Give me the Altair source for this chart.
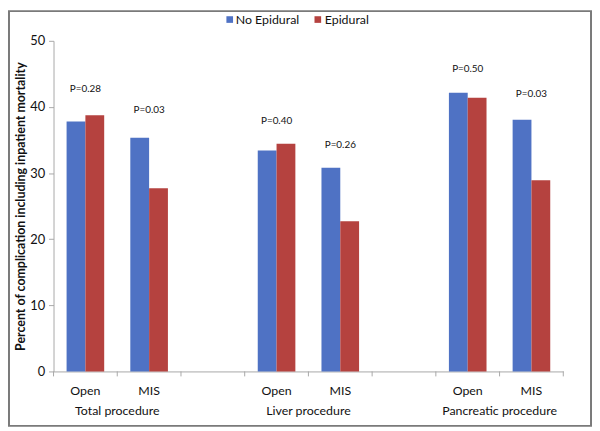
import altair as alt
import pandas as pd

ZW = "\u200b"
# ---- data ----
slots = ["Open", "MIS", " ", "Open" + ZW, "MIS" + ZW, "  ",
         "Open" + ZW * 2, "MIS" + ZW * 2]
bar_slots = ["Open", "MIS", "Open" + ZW, "MIS" + ZW, "Open" + ZW * 2, "MIS" + ZW * 2]
series = ["No Epidural", "Epidural"]
no_epidural = [37.8, 35.35, 33.4, 30.8, 42.15, 38.05]
epidural = [38.75, 27.7, 34.45, 22.7, 41.4, 28.9]
p_labels = ["P=0.28", "P=0.03", "P=0.40", "P=0.26", "P=0.50", "P=0.03"]
p_label_y = [42.7, 39.55, 37.9, 34.2, 45.7, 41.95]
groups = ["Total procedure", "Liver procedure", "Pancreatic procedure"]
group_slots = ["MIS", "MIS" + ZW, "MIS" + ZW * 2]

colors = ["#4f72c4", "#b5423f"]
FONT = "Lato"
GRAY = "#a8a8a8"

ne_df = pd.DataFrame({"slot": bar_slots, "pct": no_epidural})
ep_df = pd.DataFrame({"slot": bar_slots, "pct": epidural})
p_df = pd.DataFrame({"slot": bar_slots, "label": p_labels, "pct": p_label_y})
g_df = pd.DataFrame({"slot": group_slots, "group": groups})
tick_df = pd.DataFrame({"slot": slots})
end_df = pd.DataFrame({"slot": slots[-1:]})
leg0_df = pd.DataFrame({"name": series[:1]})
leg1_df = pd.DataFrame({"name": series[1:]})
one_df = pd.DataFrame({"a": [0]})

W, H = 515, 334
HALF = W / len(slots) / 2

x_scale = alt.Scale(domain=slots, paddingInner=0, paddingOuter=0)
y_scale = alt.Scale(domain=[0, 50])

x_enc = alt.X("slot:N", scale=x_scale, sort=None,
              axis=alt.Axis(title=None, labelAngle=0, ticks=False, labelPadding=13,
                            labelFontSize=12.5, labelColor="#111", labelFont=FONT,
                            domainColor=GRAY))
y_enc = alt.Y("pct:Q", scale=y_scale,
              axis=alt.Axis(title="Percent of complication including inpatient mortality",
                            grid=False, tickSize=5, labelPadding=4, tickMinStep=10,
                            labelFontSize=13, labelColor="#111", labelFont=FONT,
                            titleFont=FONT, titleFontSize=12.5, titleFontWeight="bold",
                            titleColor="#111", titlePadding=2,
                            domainColor=GRAY, tickColor=GRAY))

border = alt.Chart(one_df).mark_rect(filled=False, stroke="#7a7a7a",
                                     strokeWidth=2).encode(
    x=alt.value(-45), x2=alt.value(543), y=alt.value(-30), y2=alt.value(389))

bars_ne = alt.Chart(ne_df).mark_bar(width=19, xOffset=-9.5, color=colors[0]).encode(
    x=x_enc, y=y_enc)
bars_ep = alt.Chart(ep_df).mark_bar(width=19, xOffset=9.5, color=colors[1]).encode(
    x=x_enc, y=y_enc)

ticks_a = alt.Chart(tick_df).mark_rule(xOffset=-HALF, color=GRAY).encode(
    x=x_enc, y=alt.value(H), y2=alt.value(H + 5))
ticks_b = alt.Chart(end_df).mark_rule(xOffset=HALF, color=GRAY).encode(
    x=x_enc, y=alt.value(H), y2=alt.value(H + 5))

ptext = alt.Chart(p_df).mark_text(fontSize=10, font=FONT, color="#111",
                                  baseline="middle").encode(
    x=x_enc, y=y_enc, text="label:N")

gtext = alt.Chart(g_df).mark_text(fontSize=12.5, font=FONT, color="#111",
                                  baseline="middle", dx=-HALF).encode(
    x=x_enc, y=alt.value(374), text="group:N")

leg_sq0 = alt.Chart(leg0_df).mark_square(size=45, color=colors[0], opacity=1).encode(
    x=alt.value(178), y=alt.value(-21.5))
leg_tx0 = alt.Chart(leg0_df).mark_text(fontSize=12.5, font=FONT, color="#111",
                                       align="left", baseline="middle").encode(
    x=alt.value(184), y=alt.value(-21.5), text="name:N")
leg_sq1 = alt.Chart(leg1_df).mark_square(size=45, color=colors[1], opacity=1).encode(
    x=alt.value(267), y=alt.value(-21.5))
leg_tx1 = alt.Chart(leg1_df).mark_text(fontSize=12.5, font=FONT, color="#111",
                                       align="left", baseline="middle").encode(
    x=alt.value(274), y=alt.value(-21.5), text="name:N")

chart = alt.layer(border, bars_ne, bars_ep, ticks_a, ticks_b, ptext, gtext,
                  leg_sq0, leg_tx0, leg_sq1, leg_tx1).properties(
    width=W, height=H,
    padding={"left": 0, "top": 0, "right": 0, "bottom": 0},
).configure_view(strokeWidth=0)

chart.save("out.html", embed_options={"renderer": "svg", "actions": False})
